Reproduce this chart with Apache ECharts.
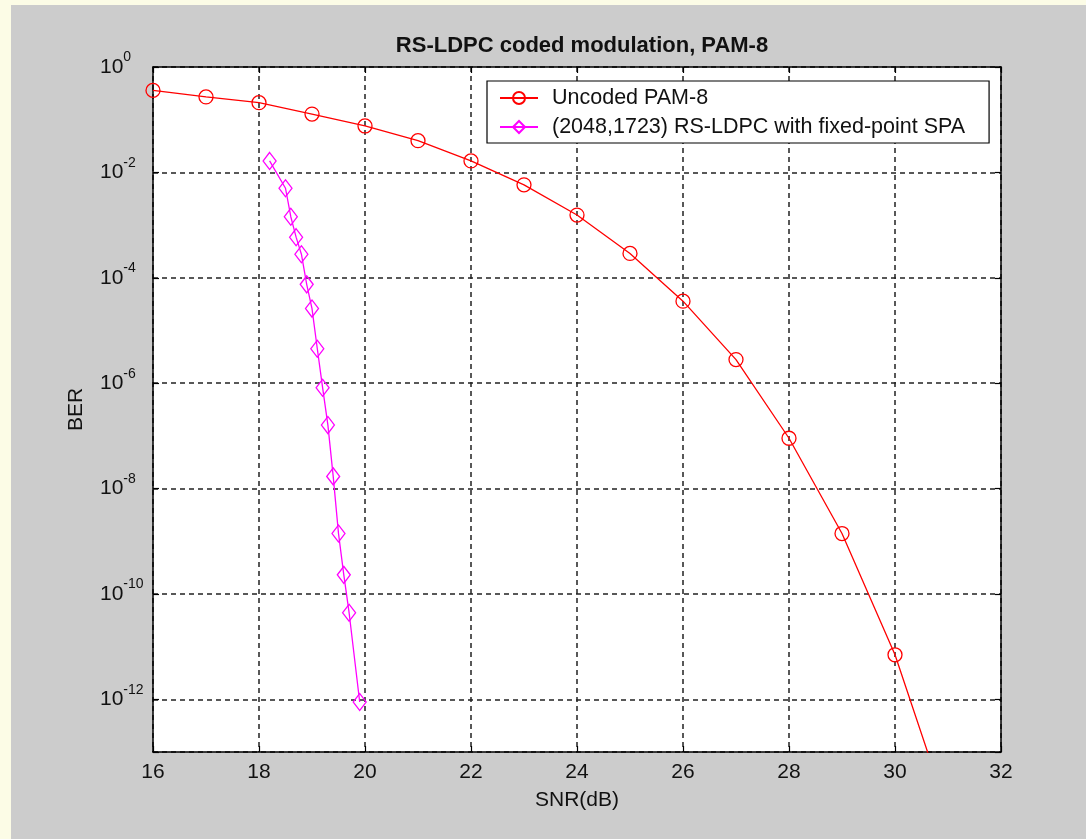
<!DOCTYPE html>
<html>
<head>
<meta charset="utf-8">
<script src="https://cdn.jsdelivr.net/npm/echarts@6/dist/echarts.min.js"></script>
<style>
  html, body { margin: 0; padding: 0; width: 1086px; height: 839px; background: #FCFCE6; overflow: hidden; }
  #chart { position: absolute; left: 11px; top: 5px; width: 1075px; height: 834px; background: #CCCCCC; }
</style>
</head>
<body>
<div id="chart"></div>
<script>
// ---- data ----
const titleText = 'RS-LDPC coded modulation, PAM-8';
const seriesNames = ['Uncoded PAM-8', '(2048,1723) RS-LDPC with fixed-point SPA'];
const uncodedSnr = [16, 17, 18, 19, 20, 21, 22, 23, 24, 25, 26, 27, 28, 29, 30, 31];
const uncodedBer = [0.36, 0.27, 0.21, 0.128, 0.076, 0.040, 0.0165, 0.0058, 0.00155, 2.9e-4, 3.6e-5, 2.8e-6, 9.0e-8, 1.4e-9, 7.0e-12, 7e-15];
const ldpcSnr = [18.2, 18.5, 18.6, 18.7, 18.8, 18.9, 19.0, 19.1, 19.2, 19.3, 19.4, 19.5, 19.6, 19.7, 19.9];
const ldpcBer = [1.65e-2, 5.0e-3, 1.44e-3, 5.9e-4, 2.8e-4, 7.5e-5, 2.6e-5, 4.5e-6, 8.2e-7, 1.6e-7, 1.7e-8, 1.4e-9, 2.3e-10, 4.4e-11, 8.9e-13];
const xMin = 16, xMax = 32, xStep = 2;
const yMinExp = -13, yMaxExp = 0, yStepExp = 2;

const toPairs = (xs, ys) => xs.map((x, i) => [x, Math.log10(ys[i])]);
const FONT = 'Liberation Sans, Arial, Helvetica, sans-serif';
const TXT = '#111';

const chart = echarts.init(document.getElementById('chart'));
chart.setOption({
  animation: false,
  backgroundColor: '#CCCCCC',
  title: {
    text: titleText,
    left: 566, top: 25, textAlign: 'center',
    textStyle: { fontFamily: FONT, fontSize: 22, fontWeight: 'bold', color: TXT }
  },
  grid: { left: 142, top: 62, width: 848, height: 685, show: true, backgroundColor: '#fff', borderWidth: 0 },
  legend: {
    orient: 'vertical', left: 476, top: 76,
    backgroundColor: '#fff', borderColor: '#000', borderWidth: 1.2,
    padding: [6, 24, 5, 12], itemGap: 7, itemWidth: 38, itemHeight: 15,
    textStyle: { fontFamily: FONT, fontSize: 21.5, color: TXT, lineHeight: 20, padding: [0, 0, 0, 9] },
    data: seriesNames
  },
  xAxis: [{
    type: 'value', min: xMin, max: xMax, interval: xStep,
    name: 'SNR(dB)', nameLocation: 'middle', nameGap: 38,
    nameTextStyle: { fontFamily: FONT, fontSize: 21, color: TXT },
    axisLine: { onZero: false, lineStyle: { color: '#000', width: 1.5 } },
    axisTick: { inside: true, length: 6, lineStyle: { color: '#000', width: 1.2 } },
    axisLabel: { fontFamily: FONT, fontSize: 21, color: TXT, margin: 10 },
    splitLine: { show: true, lineStyle: { color: '#222', width: 1.5, type: [5, 4] } }
  }, {
    type: 'value', position: 'top', min: xMin, max: xMax, interval: xStep,
    axisLine: { onZero: false, lineStyle: { color: '#000', width: 1.5 } },
    axisTick: { inside: true, length: 6, lineStyle: { color: '#000', width: 1.2 } },
    axisLabel: { show: false }, splitLine: { show: false }
  }],
  yAxis: [{
    type: 'value', min: yMinExp, max: yMaxExp, splitNumber: 7, minInterval: yStepExp, maxInterval: yStepExp,
    name: 'BER', nameLocation: 'middle', nameGap: 66,
    nameTextStyle: { fontFamily: FONT, fontSize: 21, color: TXT },
    axisLine: { onZero: false, lineStyle: { color: '#000', width: 1.5 } },
    axisTick: { inside: true, length: 6, lineStyle: { color: '#000', width: 1.2 } },
    axisLabel: {
      align: 'left', margin: 53,
      formatter: v => (Math.round(v) % 2 !== 0 ? '' : '{b|10}{e|' + Math.round(v) + '}'),
      rich: {
        b: { fontFamily: FONT, fontSize: 21, color: TXT, verticalAlign: 'middle' },
        e: { fontFamily: FONT, fontSize: 14, color: TXT, verticalAlign: 'top', lineHeight: 33 }
      }
    },
    splitLine: { show: true, lineStyle: { color: '#222', width: 1.5, type: [5, 4] } }
  }, {
    type: 'value', position: 'right', min: yMinExp, max: yMaxExp, splitNumber: 7, minInterval: yStepExp, maxInterval: yStepExp,
    axisLine: { onZero: false, lineStyle: { color: '#000', width: 1.5 } },
    axisTick: { inside: true, length: 6, lineStyle: { color: '#000', width: 1.2 } },
    axisLabel: { show: false }, splitLine: { show: false }
  }],
  series: [{
    name: seriesNames[0], type: 'line', xAxisIndex: 0, yAxisIndex: 0,
    data: toPairs(uncodedSnr, uncodedBer),
    symbol: 'circle', symbolSize: 14,
    lineStyle: { color: '#FF0000', width: 1.3 },
    itemStyle: { color: 'rgba(0,0,0,0)', borderColor: '#FF0000', borderWidth: 1.3 },
    clip: true
  }, {
    name: seriesNames[1], type: 'line', xAxisIndex: 0, yAxisIndex: 0,
    data: toPairs(ldpcSnr, ldpcBer),
    symbol: 'diamond', symbolSize: [13, 17],
    lineStyle: { color: '#FF00FF', width: 1.3 },
    itemStyle: { color: 'rgba(0,0,0,0)', borderColor: '#FF00FF', borderWidth: 1.3 },
    clip: true
  }]
});
</script>
</body>
</html>
